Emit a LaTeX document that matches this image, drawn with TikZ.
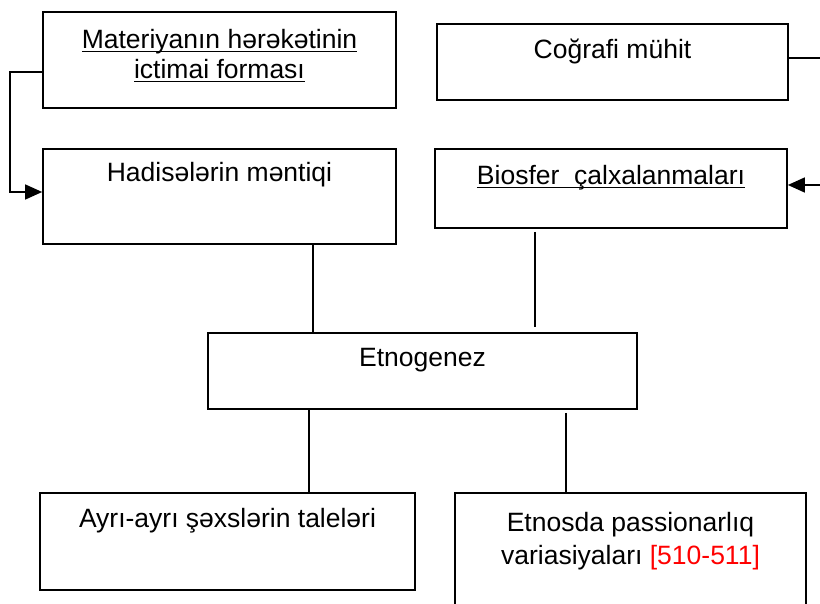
\documentclass[tikz,border=0pt]{standalone}
\usepackage{fontspec}
\setmainfont{Liberation Sans}
\usetikzlibrary{arrows.meta,calc}
\newcommand\ulw[1]{\setbox0\hbox{#1}\rlap{\rule[-4pt]{\wd0}{1.5pt}}\box0}
\begin{document}
\begin{tikzpicture}[x=1pt,y=-1pt,
  box/.style={draw, line width=1.7pt, inner sep=0pt, rectangle},
  txt/.style={anchor=base, inner sep=0pt, font=\fontsize{26.5}{31}\selectfont},
  conn/.style={line width=1.5pt},
  arr/.style={conn, -{Triangle[length=17pt,width=15pt]}}]
\useasboundingbox (0,0) rectangle (820,604);
\clip (0,0) rectangle (820,604);

% boxes
\node[box, minimum width=353pt, minimum height=96pt] (A) at (219.5,60) {};
\node[box, minimum width=351pt, minimum height=76pt] (B) at (612.5,62) {};
\node[box, minimum width=353pt, minimum height=95pt] (C) at (219.5,196.5) {};
\node[box, minimum width=352pt, minimum height=79pt] (D) at (611,188.5) {};
\node[box, minimum width=429pt, minimum height=76pt] (E) at (422.5,371) {};
\node[box, minimum width=375pt, minimum height=97pt] (F) at (227.5,541.5) {};
\node[box, minimum width=351pt, minimum height=157pt] (G) at (630.5,571.5) {};

% texts
\node[txt] (A1) at ($(A.north)+(0,37)$) {\ulw{Materiyanın hərəkətinin}};
\node[txt] (A2) at ($(A.north)+(0,67)$) {\ulw{ictimai forması}};
\node[txt] (B1) at ($(B.north)+(0,35)$) {Coğrafi mühit};
\node[txt] (C1) at ($(C.north)+(0,33)$) {Hadisələrin məntiqi};
\node[txt] (D1) at ($(D.north)+(0,36)$) {\ulw{Biosfer\ \ çalxalanmaları}};
\node[txt] (E1) at ($(E.north)+(0,34)$) {Etnogenez};
\node[txt] (F1) at ($(F.north)+(0,35)$) {Ayrı-ayrı şəxslərin taleləri};
\node[txt] (G1) at ($(G.north)+(0,39)$) {Etnosda passionarlıq};
\node[txt] (G2) at ($(G.north)+(0,72)$) {variasiyaları \textcolor{red}{[510-511]}};

% helper coordinates
\coordinate (l1) at (10,72);
\coordinate (l2) at (10,192);
\coordinate (r1) at (840,58);
\coordinate (r2) at (840,185);
\coordinate (x1) at (313,0);
\coordinate (x2) at (535,0);
\coordinate (x3) at (309,0);
\coordinate (x4) at (566,0);

% connectors
\draw[arr] (l1 -| A.west) -- (l1) -- (l2) -- (l2 -| C.west);
\draw[arr] (r1 -| B.east) -- (r1) -- (r2) -- (r2 -| D.east);
\draw[conn] (C.south -| x1) -- (E.north -| x1);
\draw[conn] ($(D.south -| x2)+(0,3)$) -- ($(E.north -| x2)+(0,-5)$);
\draw[conn] (E.south -| x3) -- (F.north -| x3);
\draw[conn] ($(E.south -| x4)+(0,3)$) -- (G.north -| x4);
\end{tikzpicture}
\end{document}
